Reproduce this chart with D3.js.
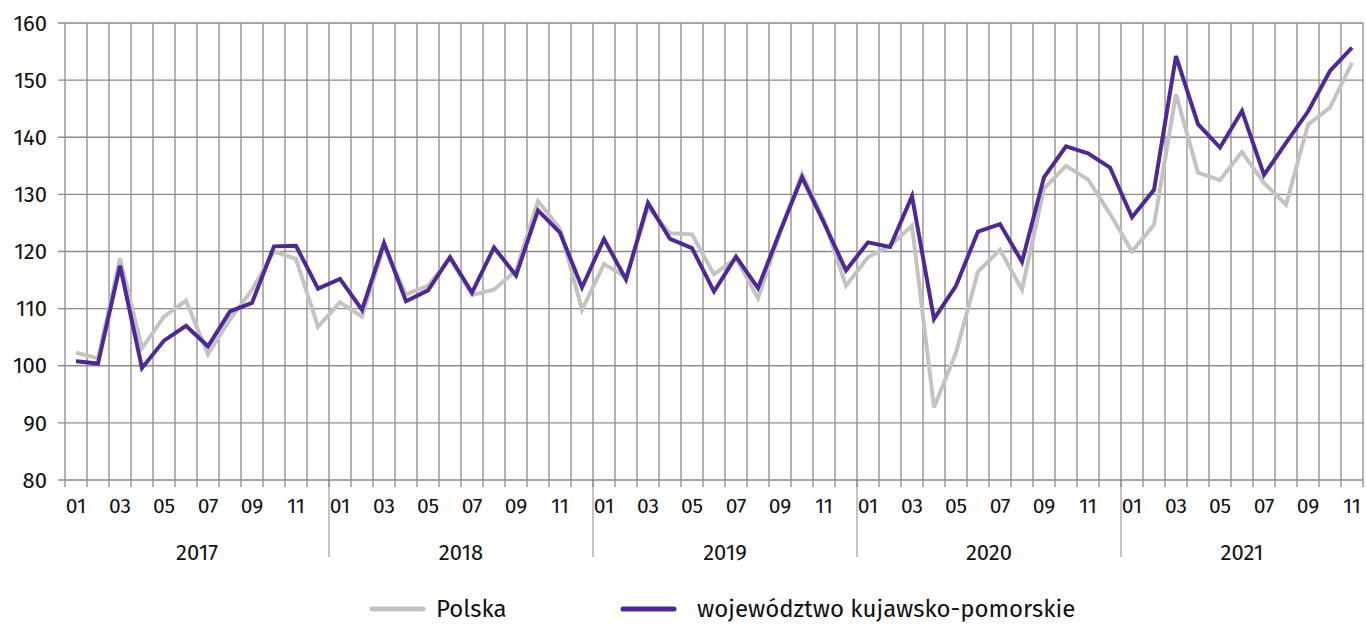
<!DOCTYPE html>
<html><head><meta charset="utf-8">
<script src="https://cdn.jsdelivr.net/npm/d3@7"></script>
<style>
html,body{margin:0;padding:0;background:#fff;}
svg{display:block;font-family:"Fira Sans","Lato","Open Sans",sans-serif;}
</style></head>
<body><svg id="chart" width="1366" height="625"></svg>
<script>
const years = ["2017","2018","2019","2020","2021"];
const monthsPerYear = [12,12,12,12,11];
const yTicks = [80,90,100,110,120,130,140,150,160];
const seriesNames = ["Polska","województwo kujawsko-pomorskie"];
const polska = [
 102.3,101.3,118.8,103.1,108.6,111.4,102.0,108.1,113.3,120.0,118.7,106.8,
 111.1,108.6,121.0,112.5,114.0,118.8,112.4,113.3,116.7,128.8,124.0,109.8,
 117.8,115.5,127.7,123.2,123.0,116.0,118.8,111.8,123.3,133.6,125.5,114.0,
 119.0,121.0,124.5,92.7,102.3,116.5,120.3,113.3,131.0,135.0,132.6,126.6,
 120.0,124.7,147.5,133.8,132.5,137.4,132.0,128.2,142.2,145.2,153.0
];
const kujpom = [
 100.8,100.4,117.5,99.6,104.4,107.0,103.4,109.5,111.0,120.9,121.0,113.5,
 115.2,109.8,121.5,111.3,113.2,119.0,112.8,120.7,115.8,127.2,123.3,113.7,
 122.2,115.1,128.5,122.2,120.6,113.0,119.1,113.6,123.5,133.0,125.0,116.7,
 121.6,120.8,129.7,108.2,114.0,123.5,124.8,118.2,133.0,138.4,137.2,134.7,
 126.0,130.8,154.2,142.3,138.2,144.6,133.4,139.0,144.5,151.6,155.7
];
const colors = ["#c3c3c3","#4f2796"];

(function(){
const months = [];
years.forEach((yr,yi)=>{for(let m=1;m<=monthsPerYear[yi];m++) months.push({year:yr,m:m,key:yr+"-"+m});});

const svg = d3.select("#chart");
const mL=65, mR=1363, mT=23, mB=480;
const x = d3.scaleBand().domain(months.map(d=>d.key)).range([mL,mR]).padding(0);
const y = d3.scaleLinear().domain([80,160]).range([mB,mT]);
const bw = x.bandwidth();
const grid="#8a8a8a";

svg.append("g").selectAll("line").data(yTicks).join("line")
  .attr("x1",mL-7).attr("x2",mR).attr("y1",d=>y(d)).attr("y2",d=>y(d))
  .attr("stroke",grid).attr("stroke-width",1.3);
const bounds = months.map(d=>x(d.key)).concat([mR]);
svg.append("g").selectAll("line").data(bounds).join("line")
  .attr("x1",d=>d).attr("x2",d=>d).attr("y1",mT).attr("y2",mB+7)
  .attr("stroke",grid).attr("stroke-width",1.3);
svg.append("g").selectAll("text").data(yTicks).join("text")
  .attr("x",47).attr("y",d=>y(d)).attr("dy","0.35em").attr("text-anchor","end")
  .attr("font-size",22).attr("fill","#111").text(d=>d);
svg.append("g").selectAll("text").data(months.filter(d=>d.m%2===1)).join("text")
  .attr("x",d=>x(d.key)+bw/2).attr("y",506).attr("dy","0.35em").attr("text-anchor","middle")
  .attr("font-size",21).attr("fill","#111").text(d=>String(d.m).padStart(2,"0"));
let idx=0;
years.forEach((yr,yi)=>{
  const first=months[idx], last=months[idx+monthsPerYear[yi]-1];
  const x0=x(first.key), x1=x(last.key)+bw;
  if(yi>0) svg.append("line").attr("x1",x0).attr("x2",x0).attr("y1",mB).attr("y2",557)
     .attr("stroke",grid).attr("stroke-width",1);
  svg.append("text").attr("x",(x0+x1)/2).attr("y",552).attr("dy","0.35em").attr("text-anchor","middle")
     .attr("font-size",22).attr("fill","#111").text(yr);
  idx+=monthsPerYear[yi];
});
const line = d3.line().x((d,i)=>x(months[i].key)+bw/2).y(d=>y(d)).curve(d3.curveLinear);
[polska,kujpom].forEach((s,i)=>{
  svg.append("path").datum(s).attr("d",line).attr("fill","none")
    .attr("stroke",colors[i]).attr("stroke-width",4).attr("stroke-linejoin","miter");
});
const leg=[{x:372,tx:436},{x:623,tx:697}];
leg.forEach((l,i)=>{
  svg.append("line").attr("x1",l.x).attr("x2",l.x+51).attr("y1",609).attr("y2",609)
    .attr("stroke",colors[i]).attr("stroke-width",5).attr("stroke-linecap","round");
  svg.append("text").attr("x",l.tx).attr("y",609).attr("dy","0.35em")
    .attr("font-size",24).attr("fill","#111").text(seriesNames[i]);
});
})();
</script></body></html>
